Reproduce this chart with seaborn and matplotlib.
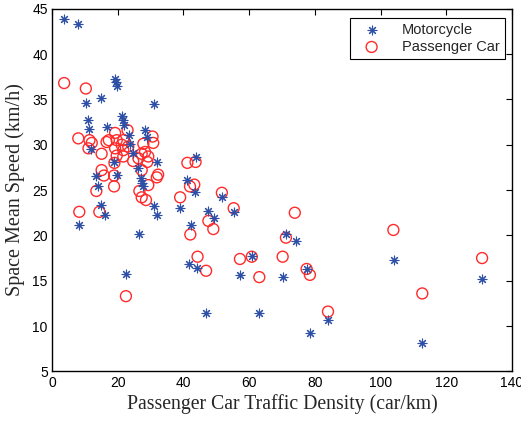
import matplotlib
matplotlib.use("Agg")
import matplotlib.pyplot as plt
import seaborn as sns
import pandas as pd

moto_x = [3.7, 8.0, 19.2, 19.5, 19.7, 15.0, 10.3, 31.0, 11.1, 11.4,
          21.4, 21.7, 22.0, 16.6, 28.3, 29.0, 23.5, 23.7, 24.7,
          11.9, 18.9, 31.9, 26.2, 19.8, 13.5, 14.1, 27.0, 27.3, 27.6,
          43.7, 41.2, 43.4, 15.0, 16.1, 8.3, 31.0, 32.1, 26.6, 22.5,
          39.1, 42.2, 47.6, 49.2, 41.8, 44.0, 46.9,
          51.8, 55.5, 71.2, 74.2, 60.8, 57.3, 70.2, 63.1, 77.5, 78.5, 84.0,
          104.0, 112.7, 130.9]
moto_y = [43.9, 43.3, 37.3, 36.9, 36.5, 35.1, 34.6, 34.5, 32.7, 31.7,
          33.2, 32.7, 32.2, 31.9, 31.6, 30.8, 31.1, 30.1, 29.1,
          29.5, 28.1, 28.1, 27.4, 26.7, 26.6, 25.4, 26.3, 25.8, 25.5,
          28.6, 26.1, 24.8, 23.35, 22.2, 21.1, 23.25, 22.2, 20.1, 15.75,
          23.0, 21.2, 22.7, 21.9, 16.9, 16.4, 11.4,
          24.2, 22.6, 20.2, 19.4, 17.7, 15.6, 15.4, 11.4, 16.3, 9.25, 10.7,
          17.3, 8.1, 15.2]

car_x = [3.7, 10.3, 8.0, 11.4, 12.1, 11.1, 15.1,
         19.2, 23.0, 30.6, 30.8, 16.6, 17.3, 19.7, 21.7, 19.2, 21.2, 21.7,
         23.2, 27.8, 28.3, 27.3, 19.7, 29.3, 21.7, 24.7, 26.3, 29.0, 27.3,
         15.1, 15.8, 18.9, 31.9, 32.3, 19.0,
         13.5, 18.9, 29.3, 26.6, 27.3, 28.6, 14.4, 8.3,
         39.0, 41.2, 43.7, 42.0, 43.3, 42.1, 44.3, 47.6, 49.1, 46.9, 22.5,
         51.7, 55.3, 73.9, 71.2, 57.2, 60.8, 70.2, 63.1, 77.5, 78.5, 84.0,
         103.9, 112.7, 130.9]
car_y = [36.8, 36.2, 30.7, 30.5, 30.2, 29.6, 29.0,
         31.3, 31.6, 30.9, 30.2, 30.3, 30.5, 30.5, 30.5, 29.6, 30.0, 29.4,
         29.8, 30.1, 29.2, 29.0, 28.8, 28.7, 28.7, 28.2, 28.5, 28.1, 27.2,
         27.2, 26.6, 26.6, 26.4, 26.7, 28.0,
         24.9, 25.4, 25.55, 24.9, 24.2, 23.9, 22.6, 22.6,
         24.2, 28.0, 28.1, 25.4, 25.6, 20.1, 17.65, 21.6, 20.7, 16.1, 13.3,
         24.7, 23.0, 22.5, 19.75, 17.4, 17.65, 17.65, 15.4, 16.3, 15.65, 11.6,
         20.6, 13.6, 17.5]

x_ticks = [0, 20, 40, 60, 80, 100, 120, 140]
y_ticks = [5, 10, 15, 20, 25, 30, 35, 40, 45]

sns.set_style("white")
plt.rcParams['font.family'] = ['Liberation Sans', 'DejaVu Sans']

moto = pd.DataFrame({"x": moto_x, "y": moto_y})
car = pd.DataFrame({"x": car_x, "y": car_y})

fig = plt.figure(figsize=(5.21, 4.24), dpi=100)
ax = fig.add_axes([0.0998, 0.124, 0.8829, 0.8555])

sns.scatterplot(data=moto, x="x", y="y", ax=ax, marker=(8, 2, 0), s=40,
                color="#2d4fa6", edgecolor="#2d4fa6", linewidth=0.8,
                label="Motorcycle", zorder=3)
sns.scatterplot(data=car, x="x", y="y", ax=ax, marker="o", s=62,
                facecolor="none", edgecolor="#ff2a2a", linewidth=1.0,
                label="Passenger Car", zorder=2)

ax.set_xlim(0, 140)
ax.set_ylim(5, 45)
ax.set_xticks(x_ticks)
ax.set_yticks(y_ticks)
ax.tick_params(direction="in", length=4, width=0.8, top=True, right=True,
               labelsize=10, colors="black", pad=3)
for sp in ax.spines.values():
    sp.set_visible(True)
    sp.set_color("black")
    sp.set_linewidth(1.0)

ax.set_xlabel("Passenger Car Traffic Density (car/km)",
              family=["Liberation Serif", "DejaVu Serif"], fontsize=14.2, labelpad=3)
ax.set_ylabel("Space Mean Speed (km/h)",
              family=["Liberation Serif", "DejaVu Serif"], fontsize=14.5, labelpad=5)

leg = ax.legend(loc="upper right", bbox_to_anchor=(0.985, 0.975), borderaxespad=0,
                fancybox=False, edgecolor="black", framealpha=1, fontsize=10.5,
                handletextpad=1.0, borderpad=0.35, labelspacing=0.2, handlelength=2.2)
leg.get_frame().set_linewidth(0.8)

fig.savefig("out.png", dpi=100)
